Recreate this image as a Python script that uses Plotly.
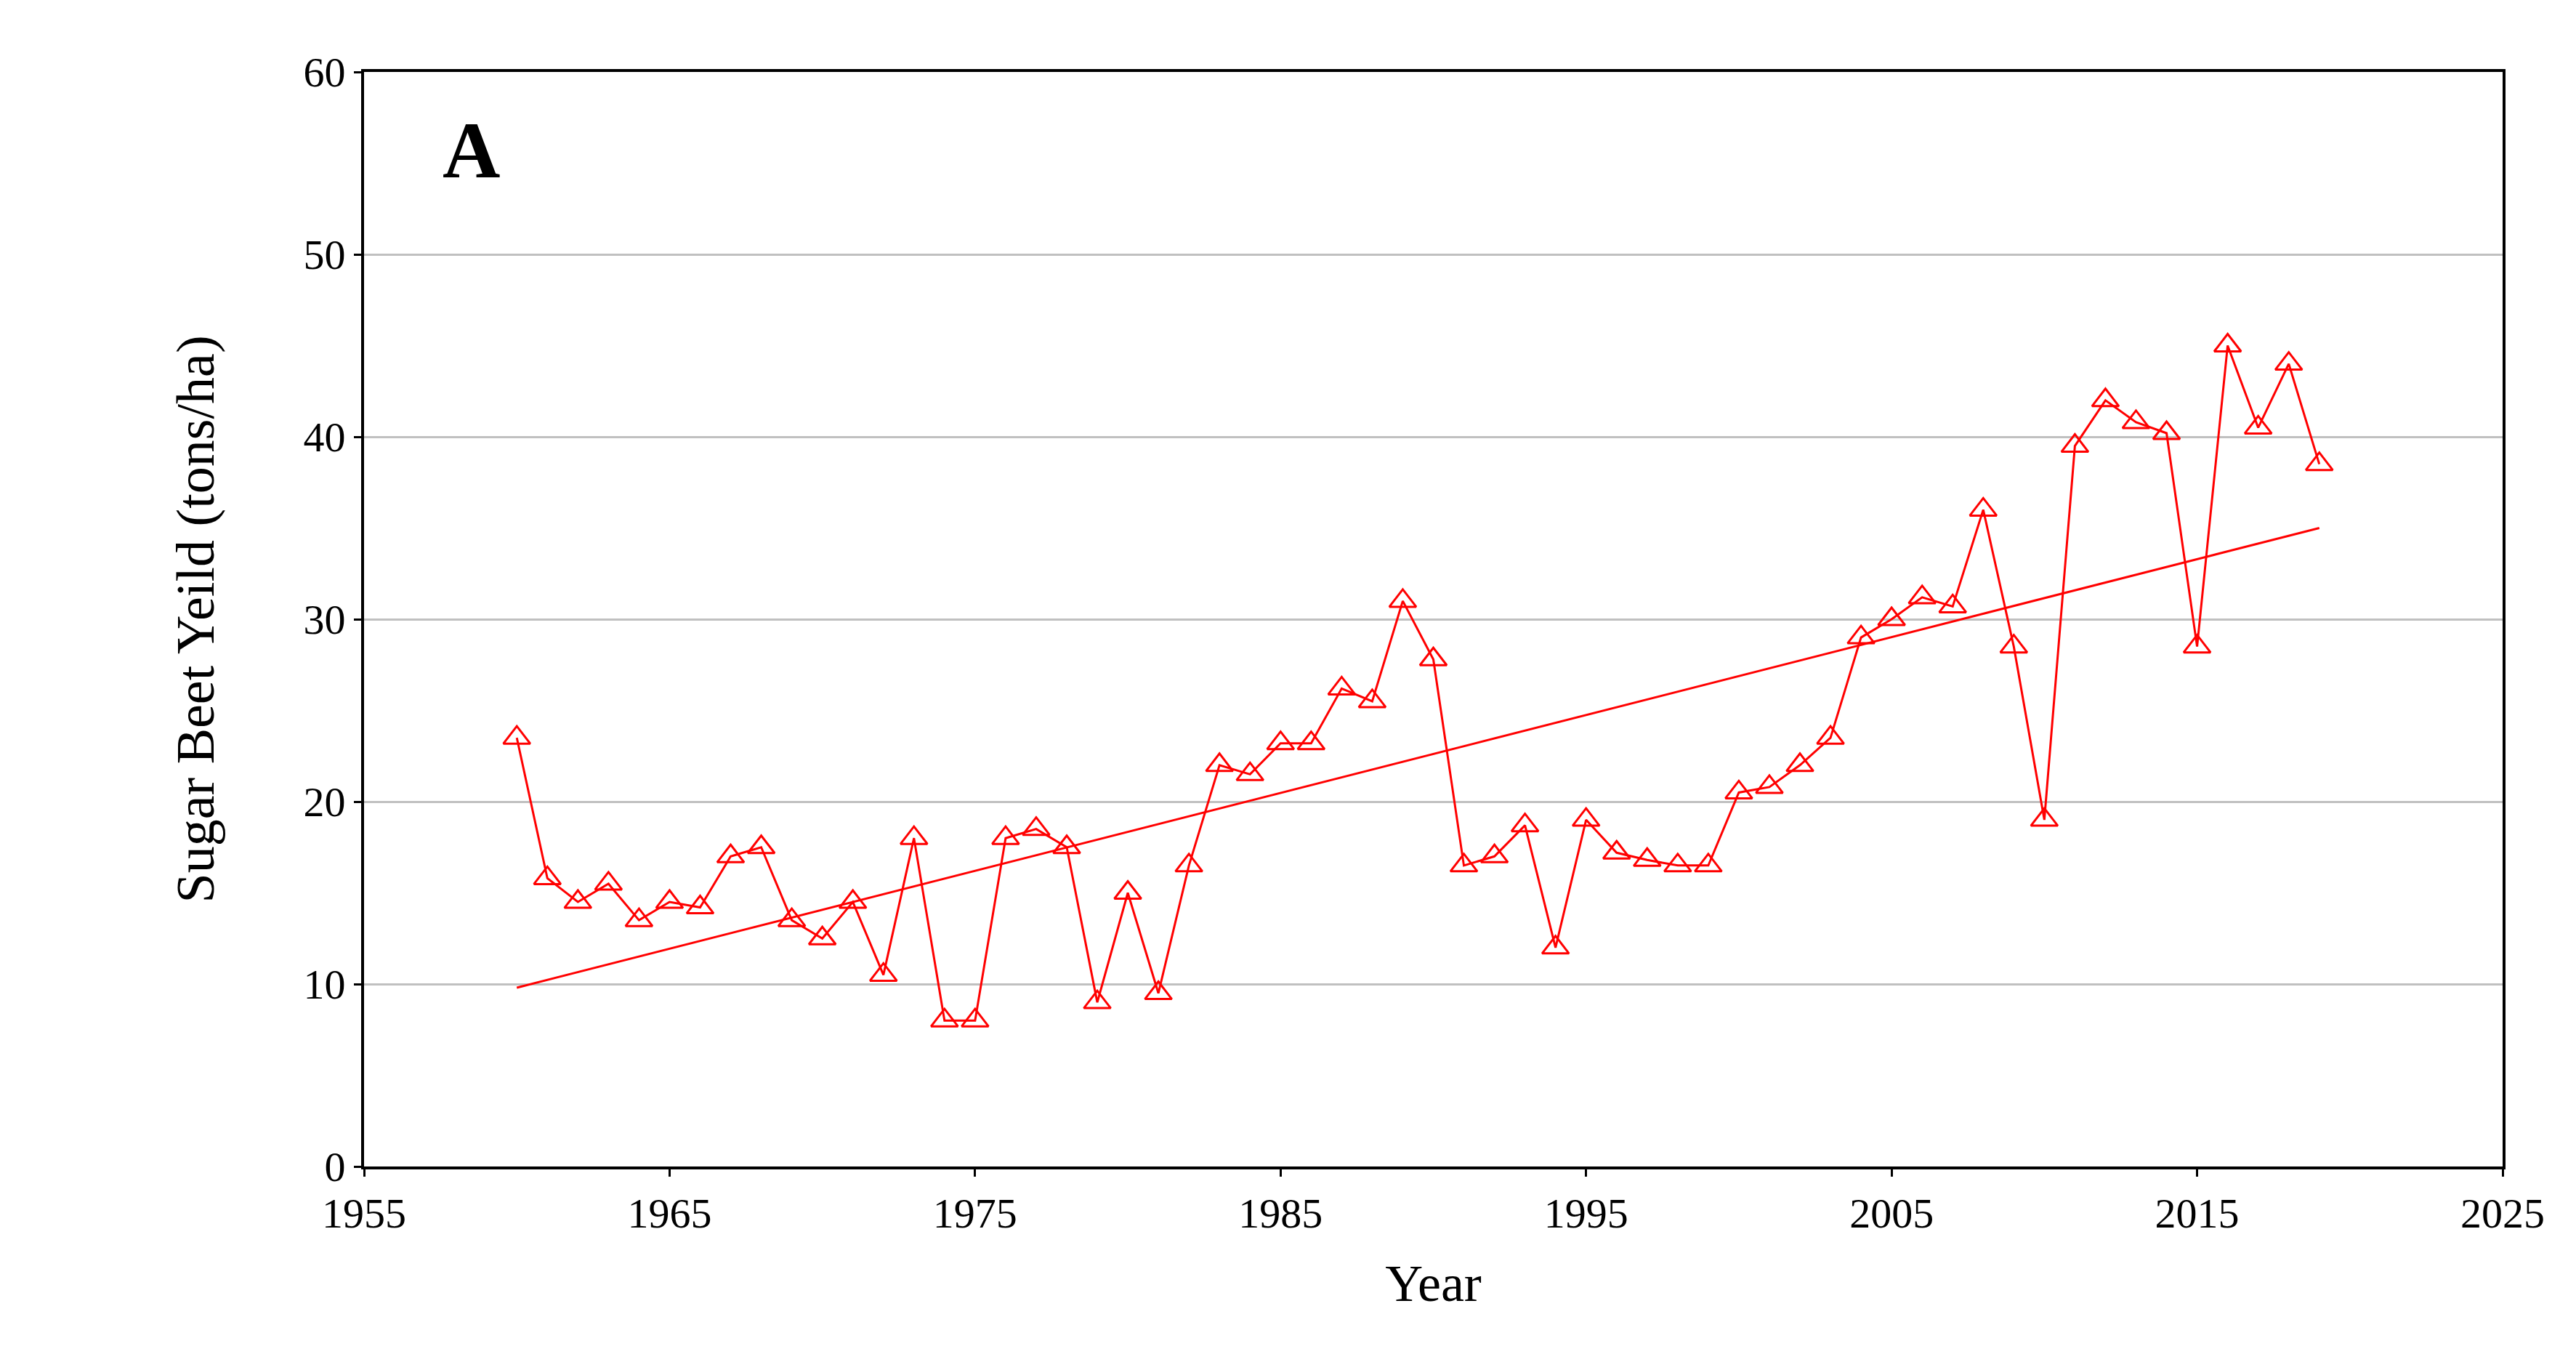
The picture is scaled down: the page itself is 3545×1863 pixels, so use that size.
import plotly.graph_objects as go

# ===== DATA =====
years = list(range(1960, 2020))
yield_t = [23.5, 15.8, 14.5, 15.5, 13.5, 14.5, 14.2, 17.0, 17.5, 13.5,
           12.5, 14.5, 10.5, 18.0, 8.0, 8.0, 18.0, 18.5, 17.5, 9.0,
           15.0, 9.5, 16.5, 22.0, 21.5, 23.2, 23.2, 26.2, 25.5, 31.0,
           27.8, 16.5, 17.0, 18.7, 12.0, 19.0, 17.2, 16.8, 16.5, 16.5,
           20.5, 20.8, 22.0, 23.5, 29.0, 30.0, 31.2, 30.7, 36.0, 28.5,
           19.0, 39.5, 42.0, 40.8, 40.2, 28.5, 45.0, 40.5, 44.0, 38.5]
trend_years = [1960, 2019]
trend_vals = [9.8, 35.0]

RED = "#ff0000"
FONT = "Liberation Serif"

fig = go.Figure()
fig.add_trace(go.Scatter(x=years, y=yield_t, mode="lines+markers",
    line=dict(color=RED, width=3),
    marker=dict(symbol="triangle-up-open", size=32, color=RED, line=dict(width=3))))
fig.add_trace(go.Scatter(x=trend_years, y=trend_vals, mode="lines",
    line=dict(color=RED, width=3)))

axis_common = dict(showline=True, linecolor="black", linewidth=4, mirror=True,
    ticks="outside", ticklen=10, tickwidth=3, tickcolor="black",
    tickfont=dict(family=FONT, size=58, color="black"))

fig.update_xaxes(range=[1955, 2025], tick0=1955, dtick=10, showgrid=False,
    title=dict(text="Year", font=dict(family=FONT, size=72, color="black"), standoff=40),
    **axis_common)
fig.update_yaxes(range=[0, 60], dtick=10, showgrid=True, gridcolor="#c0c0c0", gridwidth=3,
    title=dict(text="Sugar Beet Yeild (tons/ha)", font=dict(family=FONT, size=74, color="black"), standoff=100),
    **axis_common)

fig.add_annotation(x=0.05, y=0.97, xref="paper", yref="paper", text="<b>A</b>",
    showarrow=False, xanchor="center", yanchor="top",
    font=dict(family=FONT, size=110, color="black"))

fig.update_layout(width=3545, height=1863, showlegend=False,
    paper_bgcolor="white", plot_bgcolor="white",
    margin=dict(l=493, r=109, t=91, b=266))

fig.write_html("out.html")
